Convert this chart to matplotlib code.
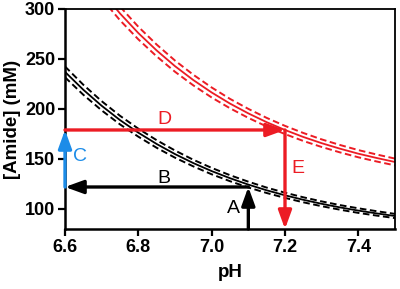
import matplotlib
matplotlib.use('Agg')
from matplotlib import pyplot as plt

plt.rcParams['font.family'] = ['Liberation Sans', 'DejaVu Sans']

# black curve
ph_black = [6.60, 6.65, 6.70, 6.75, 6.80, 6.85, 6.90, 6.95, 7.00, 7.05,
            7.10, 7.15, 7.20, 7.25, 7.30, 7.35, 7.40, 7.45, 7.50]
black_mid = [237.1, 219.2, 203.2, 188.9, 176.3, 165.0, 154.9, 145.9, 137.9, 130.8,
             124.4, 118.7, 113.7, 109.2, 105.2, 101.6, 98.4, 95.6, 93.0]
black_hi = [242.5, 224.2, 207.8, 193.2, 180.3, 168.8, 158.5, 149.2, 141.1, 133.8,
            127.3, 121.4, 116.3, 111.7, 107.6, 103.9, 100.7, 97.8, 95.1]
black_lo = [231.7, 214.2, 198.6, 184.6, 172.3, 161.2, 151.3, 142.6, 134.7, 127.8,
            121.5, 116.0, 111.1, 106.7, 102.8, 99.3, 96.1, 93.4, 90.9]

# red curve
ph_red = [6.70, 6.75, 6.80, 6.85, 6.90, 6.95, 7.00, 7.05, 7.10, 7.15,
          7.20, 7.25, 7.30, 7.35, 7.40, 7.45, 7.50]
red_mid = [317.6, 295.5, 275.9, 258.5, 242.8, 228.9, 216.5, 205.4, 195.6, 186.8,
           179.0, 172.0, 165.8, 160.3, 155.3, 151.0, 147.0]
red_hi = [324.9, 302.3, 282.2, 264.4, 248.4, 234.2, 221.5, 210.1, 200.1, 191.1,
          183.1, 176.0, 169.6, 164.0, 158.9, 154.5, 150.4]
red_lo = [310.3, 288.7, 269.6, 252.6, 237.2, 223.6, 211.5, 200.7, 191.1, 182.5,
          174.9, 168.0, 162.0, 156.6, 151.7, 147.5, 143.6]

RED = '#ec1c24'
BLUE = '#1c8ce8'

# arrows: label, start, end, colour, label position
arrows = [
    ("A", (7.1, 80), (7.1, 122), 'black', (7.06, 100)),
    ("B", (7.1, 122), (6.6, 122), 'black', (6.87, 130)),
    ("C", (6.6, 122), (6.6, 179), BLUE, (6.64, 152)),
    ("D", (6.6, 179), (7.2, 179), RED, (6.87, 189)),
    ("E", (7.2, 179), (7.2, 80), RED, (7.235, 140)),
]

fig = plt.figure(figsize=(4, 2.89), dpi=100)
ax = fig.add_axes([0.1625, 0.2076, 0.825, 0.7614])

dash = (0, (3.4, 1.8))
ax.plot(ph_black, black_mid, color='black', lw=1.3)
ax.plot(ph_black, black_hi, color='black', lw=1.4, ls=dash)
ax.plot(ph_black, black_lo, color='black', lw=1.4, ls=dash)
ax.plot(ph_red, red_mid, color=RED, lw=1.3)
ax.plot(ph_red, red_hi, color=RED, lw=1.4, ls=dash)
ax.plot(ph_red, red_lo, color=RED, lw=1.4, ls=dash)

for lab, p0, p1, c, tp in arrows:
    ax.annotate("", xy=p1, xytext=p0,
                arrowprops=dict(arrowstyle='-|>,head_length=1.1,head_width=0.4',
                                color=c, lw=2.4, shrinkA=0, shrinkB=0),
                annotation_clip=False, zorder=5)
    ax.text(tp[0], tp[1], lab, color=c, fontsize=14, ha='center', va='center')

ax.set_xlim(6.6, 7.5)
ax.set_ylim(80, 300)
ax.set_xticks([6.6, 6.8, 7.0, 7.2, 7.4])
ax.set_xticklabels(['6.6', '6.8', '7.0', '7.2', '7.4'])
ax.set_yticks([100, 150, 200, 250, 300])

for s in ['left', 'bottom']:
    ax.spines[s].set_linewidth(1.8)
for s in ['top', 'right']:
    ax.spines[s].set_linewidth(1.3)
ax.tick_params(direction='out', length=5, width=1.6, labelsize=13, pad=2)
for t in ax.get_xticklabels() + ax.get_yticklabels():
    t.set_fontweight('bold')

ax.set_xlabel("pH", fontsize=13.5, fontweight='bold', labelpad=6)
ax.set_ylabel("[Amide] (mM)", fontsize=13.5, fontweight='bold', labelpad=3)

plt.savefig("out.png", dpi=100)
